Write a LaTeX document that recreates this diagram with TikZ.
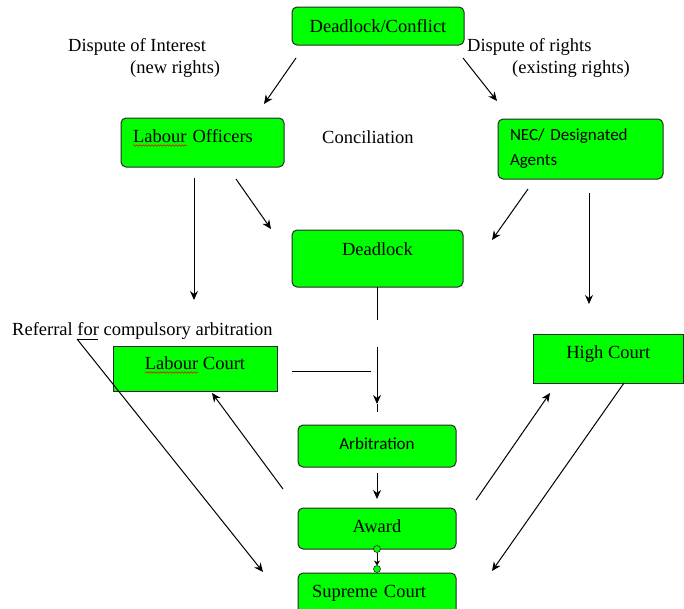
\documentclass[tikz,border=0pt]{standalone}
\usepackage{fontspec}
\setmainfont{Liberation Serif}
\setsansfont{Carlito}
\usetikzlibrary{arrows.meta,decorations.pathmorphing}
\definecolor{boxgreen}{RGB}{0,255,0}
\definecolor{boxline}{RGB}{40,40,40}
\newcommand{\serifText}{\fontsize{18.5}{22}\selectfont}
\newcommand{\sansText}{\sffamily\fontsize{17}{25}\selectfont}
\tikzset{
  gbox/.style={draw=boxline, fill=boxgreen, line width=1pt, rounded corners=5pt, inner sep=0pt, anchor=base, font=\serifText},
  gsq/.style={gbox, rounded corners=0pt},
  note/.style={anchor=base west, inner sep=0pt, font=\serifText},
  arr/.style={-{Stealth[length=9pt,width=8pt]}, line width=1pt},
  plain/.style={line width=1pt},
  spell/.style={red, line width=0.5pt, decorate, decoration={snake, amplitude=0.8pt, segment length=3pt}},
  dot/.style={draw=boxline, fill=boxgreen, line width=0.6pt},
}

\begin{document}
\begin{tikzpicture}[x=1pt,y=-1pt]
\useasboundingbox (0,0) rectangle (684,608);
% boxes
\node[gbox, minimum width=172, text height=25, text depth=13] (conf) at (378,32) {Deadlock/Conflict};
\node[gbox, inner xsep=12, text width=139, align=left, text height=24, text depth=25] (lo) at (202.5,142) {Labour Officers};
\node[gbox, font=\sansText, anchor=center, inner xsep=12, text width=141, align=left, minimum height=60] (nec) at (580.5,149) {NEC/ Designated\\Agents};
\node[gbox, minimum width=171, text height=25, text depth=32] (dl) at (377.5,255) {Deadlock};
\node[gsq, minimum width=164, text height=23, text depth=22] (lc) at (195,369) {Labour Court};
\node[gsq, minimum width=150.5, text height=24, text depth=25] (hc) at (608.25,358) {High Court};
\node[gbox, font=\sansText, minimum width=158, text height=24, text depth=18] (arb) at (377,449) {Arbitration};
\node[gbox, minimum width=158, text height=24, text depth=17] (aw) at (377,532) {Award};
\node[gbox, inner xsep=14, text width=130, align=left, text height=24, text depth=18] (sc) at (377,597) {Supreme Court};
% plain text
\node[note] (inter) at (68,51) {Dispute of Interest};
\node[note] (newr) at (130,73) {(new rights)};
\node[note] (rights) at (467,51) {Dispute of rights};
\node[note] (exist) at (512,73) {(existing rights)};
\node[note] (conc) at (322,143) {Conciliation};
\node[note] (refer) at (12,335) {Referral for compulsory arbitration};
% spelling marks
\draw[spell] (133,145.5) -- (187,145.5);
\draw[spell] (145,372.5) -- (198,372.5);
% connector ends
\coordinate (cfL) at (296,58);   \coordinate (cfLt) at (264,104);
\coordinate (cfR) at (463,58);   \coordinate (cfRt) at (497,101);
\coordinate (loD) at (194,178);  \coordinate (loDt) at (194,300);
\coordinate (loR) at (236,179);  \coordinate (loRt) at (271,229);
\coordinate (necL) at (528,189); \coordinate (necLt) at (492,240);
\coordinate (necD) at (589,193); \coordinate (necDt) at (589,304);
\coordinate (dlD) at (377,287);  \coordinate (dlDt) at (377,320);
\coordinate (mid) at (377,347);  \coordinate (midt) at (377,404);
\coordinate (midx) at (377,412);
\coordinate (lcR) at (292,371);  \coordinate (lcRt) at (371,371);
\coordinate (arbD) at (377,473); \coordinate (arbDt) at (377,499);
\coordinate (awL) at (283,489);  \coordinate (awLt) at (212,393);
\coordinate (awR) at (476,500);  \coordinate (awRt) at (550,393);
\coordinate (hcD) at (624,383);  \coordinate (hcDt) at (492,571);
\coordinate (ulA) at (77,339);   \coordinate (ulB) at (98,339);
\coordinate (ult) at (263,572);
\coordinate (awS) at (377,549);  \coordinate (scN) at (377,569);
% connectors
\draw[arr] (cfL) -- (cfLt);
\draw[arr] (cfR) -- (cfRt);
\draw[arr] (loD) -- (loDt);
\draw[arr] (loR) -- (loRt);
\draw[arr] (necL) -- (necLt);
\draw[arr] (necD) -- (necDt);
\draw[plain] (dlD) -- (dlDt);
\draw[arr] (mid) -- (midt);
\draw[plain] (midt) -- (midx);
\draw[plain] (lcR) -- (lcRt);
\draw[arr] (arbD) -- (arbDt);
\draw[arr] (awL) -- (awLt);
\draw[arr] (awR) -- (awRt);
\draw[arr] (hcD) -- (hcDt);
\draw[plain] (ulB) -- (ulA);
\draw[arr] (ulA) -- (ult);
\draw[dot] (awS) circle (3.5);
\draw[-{Stealth[length=5pt,width=6pt]}, line width=1pt, shorten <=3.5pt, shorten >=3.5pt] (awS) -- (scN);
\draw[dot] (scN) circle (3.5);
\end{tikzpicture}
\end{document}
